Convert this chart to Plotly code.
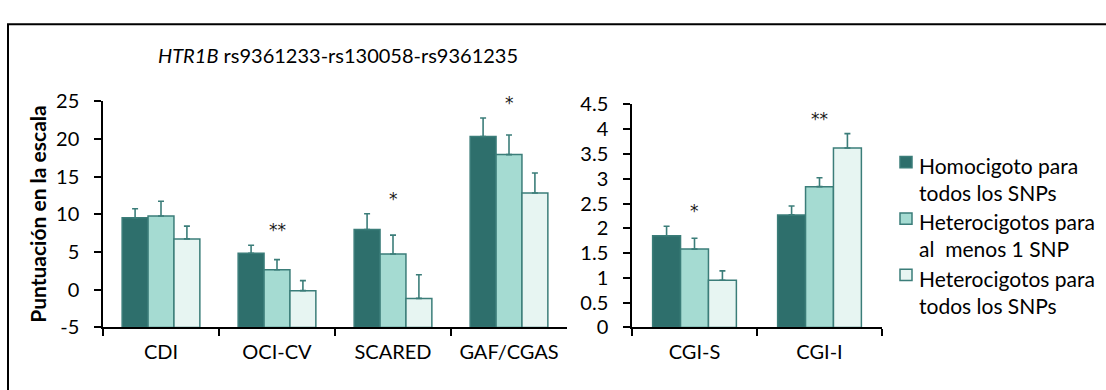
import plotly.graph_objects as go

# Escalas con puntuación directa (eje izquierdo)
cats_left = ["CDI", "OCI-CV", "SCARED", "GAF/CGAS"]
homo_left = [9.55, 4.85, 8.0, 20.35]
homo_left_err = [1.2, 1.05, 2.1, 2.45]
het1_left = [9.8, 2.65, 4.75, 17.95]
het1_left_err = [1.95, 1.35, 2.5, 2.6]
hetall_left = [6.75, -0.12, -1.15, 12.85]
hetall_left_err = [1.7, 1.33, 3.15, 2.65]
sig_left = ["", "**", "*", "*"]
ticks_left = [-5, 0, 5, 10, 15, 20, 25]

# Escalas de impresión clínica global (eje derecho)
cats_right = ["CGI-S", "CGI-I"]
homo_right = [1.85, 2.27]
homo_right_err = [0.19, 0.18]
het1_right = [1.58, 2.84]
het1_right_err = [0.22, 0.18]
hetall_right = [0.95, 3.62]
hetall_right_err = [0.19, 0.29]
sig_right = ["*", "**"]
ticks_right = [0, 0.5, 1, 1.5, 2, 2.5, 3, 3.5, 4, 4.5]

group_names = [
    "Homocigoto para<br>todos los SNPs",
    "Heterocigotos para<br>al  menos 1 SNP",
    "Heterocigotos para<br>todos los SNPs",
]
left_floor = ticks_left[0]  # the left value axis crosses at its minimum, bars rise from there

FONT = "Lato"
EDGE = "#3B7D79"
fills = ["#2E6F6C", "#A5DBD2", "#E7F5F2"]
W, H = 1106, 390


def px_x(v):
    return v / W


def px_y(v):
    return 1 - v / H


left_series = [(homo_left, homo_left_err), (het1_left, het1_left_err), (hetall_left, hetall_left_err)]
right_series = [(homo_right, homo_right_err), (het1_right, het1_right_err), (hetall_right, hetall_right_err)]

fig = go.Figure()

for i, (vals, errs) in enumerate(left_series):
    fig.add_trace(go.Bar(
        x=cats_left, y=[v - left_floor for v in vals], base=left_floor,
        name=group_names[i], showlegend=False,
        marker=dict(color=fills[i], line=dict(color=EDGE, width=1.5)),
        error_y=dict(type="data", symmetric=False, array=errs, arrayminus=[0] * len(errs),
                     color=EDGE, thickness=1.6, width=3),
        xaxis="x", yaxis="y",
    ))

for i, (vals, errs) in enumerate(right_series):
    fig.add_trace(go.Bar(
        x=cats_right, y=vals,
        name=group_names[i], showlegend=False,
        marker=dict(color=fills[i], line=dict(color=EDGE, width=1.5)),
        error_y=dict(type="data", symmetric=False, array=errs, arrayminus=[0] * len(errs),
                     color=EDGE, thickness=1.6, width=3),
        xaxis="x2", yaxis="y2",
    ))

annotations = []
shapes = []

# significance marks above the tallest error bar of each group
for cats, sigs, series, xr, yr in [(cats_left, sig_left, left_series, "x", "y"),
                                   (cats_right, sig_right, right_series, "x2", "y2")]:
    tops = list(zip(*[[v + e for v, e in zip(vs, es)] for vs, es in series]))
    for c, k, t in zip(cats, sigs, tops):
        if k:
            annotations.append(dict(x=c, y=max(t), xref=xr, yref=yr, text=k, showarrow=False,
                                    yanchor="middle", yshift=15,
                                    font=dict(size=17, color="#1a1a1a", family="DejaVu Sans")))

annotations.append(dict(
    x=px_x(156), y=px_y(45), xref="paper", yref="paper", xanchor="left", yanchor="middle",
    text="<i>HTR1B</i> rs9361233-rs130058-rs9361235", showarrow=False,
    font=dict(size=20, color="black", family=FONT)))
annotations.append(dict(
    x=px_x(38), y=px_y(214), xref="paper", yref="paper", xanchor="center", yanchor="middle",
    text="<b>Puntuación en la escala</b>", textangle=-90, showarrow=False,
    font=dict(size=21, color="black", family=FONT)))

# legend: swatch aligned with the first text line of each entry
legend_rows = [161, 221, 281]
for i, row in enumerate(legend_rows):
    shapes.append(dict(type="rect", xref="paper", yref="paper",
                       x0=px_x(900), x1=px_x(912), y0=px_y(row + 4), y1=px_y(row - 8),
                       fillcolor=fills[i], line=dict(color=EDGE, width=1.5)))
    annotations.append(dict(
        x=px_x(917), y=px_y(row - 14), xref="paper", yref="paper", xanchor="left", yanchor="top",
        text=group_names[i], align="left", showarrow=False,
        font=dict(size=21, color="black", family=FONT)))

shapes.append(dict(type="rect", xref="paper", yref="paper", x0=px_x(8), x1=1.05,
                   y0=-0.1, y1=px_y(12), line=dict(color="black", width=2)))

axis_common = dict(showline=True, linecolor="black", ticks="outside", tickcolor="black",
                   showgrid=False, zeroline=False, tickfont=dict(size=20, color="black", family=FONT))

fig.update_layout(
    width=W, height=H,
    margin=dict(l=0, r=0, t=0, b=0),
    paper_bgcolor="white", plot_bgcolor="white",
    barmode="group", bargap=0.33, bargroupgap=0,
    font=dict(family=FONT, color="black"),
    showlegend=False,
    xaxis=dict(domain=[px_x(103), px_x(567)], anchor="y", tickson="boundaries",
               ticklen=7, tickwidth=1.5, linewidth=2, ticklabelstandoff=6, **axis_common),
    yaxis=dict(domain=[px_y(335), px_y(94.3)], anchor="x", range=[ticks_left[0], ticks_left[-1]],
               tickvals=ticks_left, ticktext=[str(t) for t in ticks_left],
               ticklen=7, tickwidth=1.5, linewidth=1.5, ticklabelstandoff=11, **axis_common),
    xaxis2=dict(domain=[px_x(632), px_x(882)], anchor="y2", tickson="boundaries",
                ticklen=7, tickwidth=1.5, linewidth=2, ticklabelstandoff=6, **axis_common),
    yaxis2=dict(domain=[px_y(335), px_y(97.4)], anchor="x2", range=[ticks_right[0], ticks_right[-1]],
                tickvals=ticks_right, ticktext=[f"{t:g}" for t in ticks_right],
                ticklen=7, tickwidth=1.5, linewidth=1.5, ticklabelstandoff=11, **axis_common),
    annotations=annotations,
    shapes=shapes,
)

fig.write_html("out.html")
